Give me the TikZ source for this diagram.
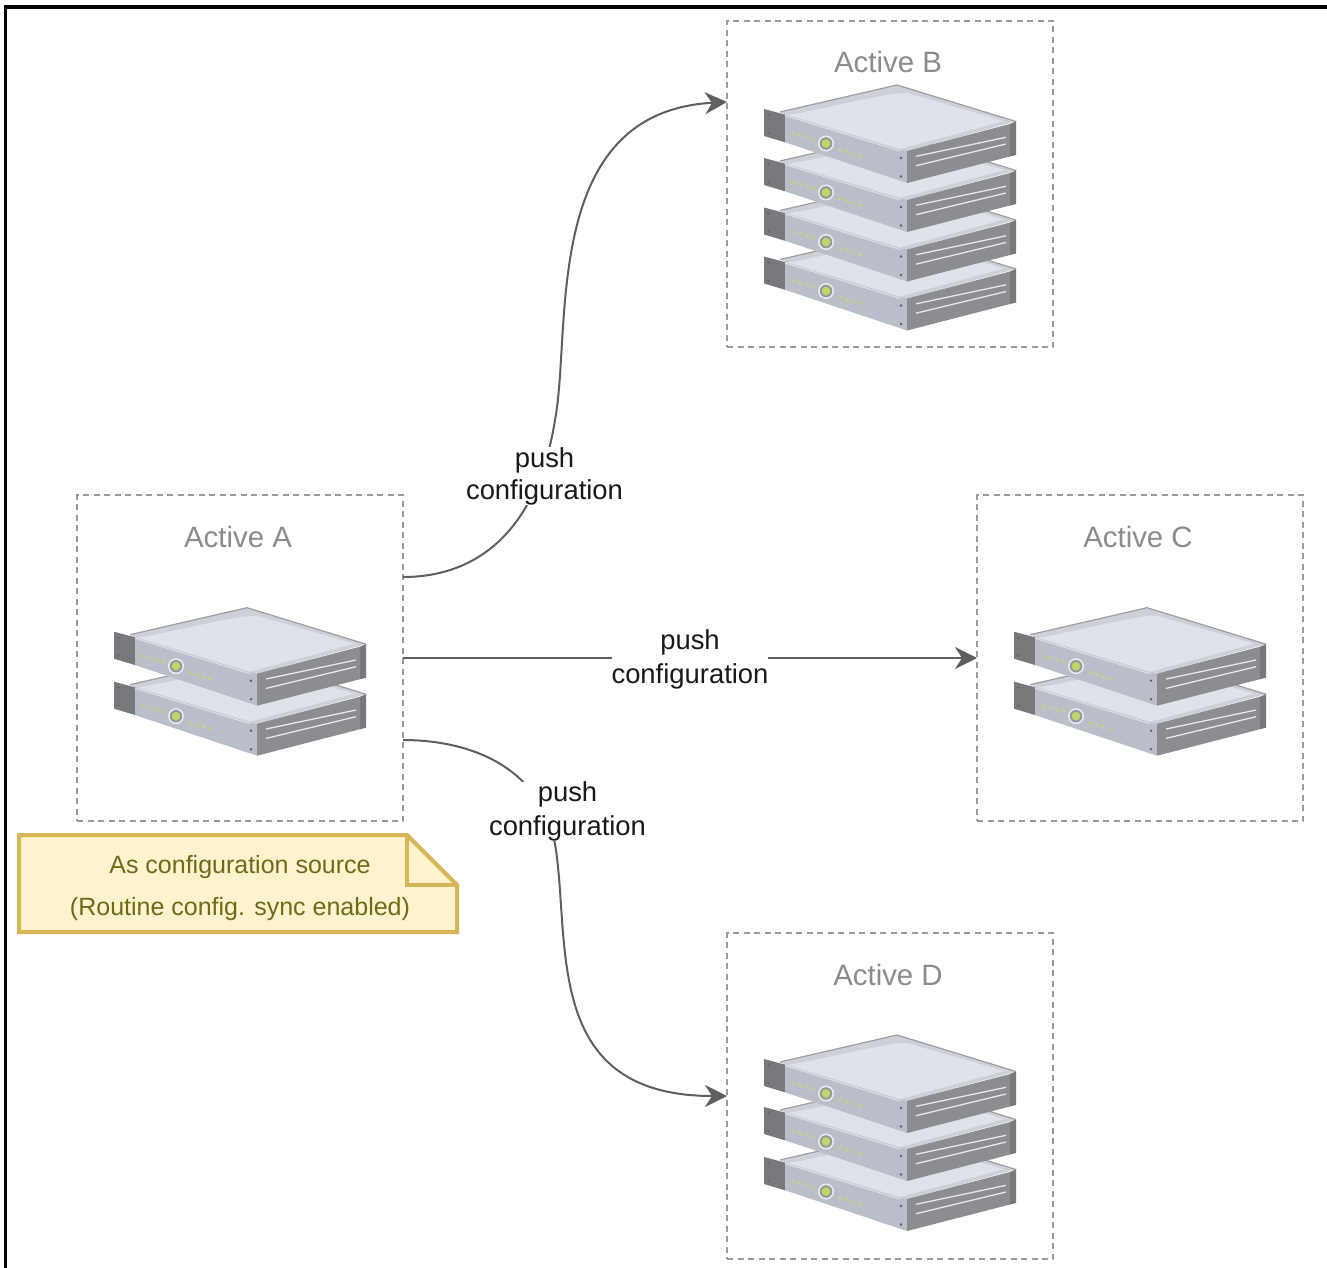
\documentclass[tikz,border=0pt]{standalone}
\usepackage{fontspec}
\setmainfont{Liberation Sans}
\usetikzlibrary{arrows.meta,calc}
\definecolor{boxgray}{HTML}{9A9A9A}
\definecolor{titlegray}{HTML}{8C8C8C}
\definecolor{linkgray}{HTML}{5F5F5F}
\definecolor{notefill}{HTML}{FFF2CC}
\definecolor{noteline}{HTML}{D6B656}
\definecolor{notetext}{HTML}{6F6A1A}
\definecolor{srvtop}{HTML}{DFE2E9}
\definecolor{srvrim}{HTML}{CDD0D6}
\definecolor{srvedge}{HTML}{9C9EA2}
\definecolor{srvfront}{HTML}{B9BEC9}
\definecolor{srvside}{HTML}{8B8D90}
\definecolor{srvear}{HTML}{77797C}
\definecolor{srvled}{HTML}{C4D284}
\definecolor{srvlamp}{HTML}{BDD86A}
\tikzset{
  x=1pt,y=-1pt,
  hostbox/.style={draw=boxgray,line width=1.5pt,dash pattern=on 6pt off 4.5pt,minimum width=326pt,minimum height=326pt,inner sep=0pt,outer sep=0pt},
  hosttitle/.style={text=titlegray,font=\fontsize{29.4}{33}\selectfont,inner sep=0pt},
  pushlabel/.style={fill=white,align=center,inner sep=0pt,text=black!90,font=\fontsize{27.4}{33.5}\selectfont},
  pushlink/.style={draw=linkgray,line width=2pt,-{Stealth[length=22pt,width=22pt,inset=7pt]}},
  notelabel/.style={text=notetext,inner sep=0pt,font=\fontsize{25}{42}\selectfont,align=center},
  server/.pic={
    % top face and rim
    \fill[srvrim] (16,27) -- (133,0) -- (252,36.5) -- (143,66) -- (136,66) -- (21,29.6) -- cycle;
    \fill[srvtop] (24,30) .. controls (70,22) and (120,8) .. (143,8) -- (240,36) -- (136,64) -- cycle;
    \draw[srvedge,line width=1.2pt,line join=round] (16,27) -- (133,0) -- (252,36.5);
    % left ear
    \fill[srvear] (0,24) -- (21,29.6) -- (21,57.3) -- (0,51) -- cycle;
    % front panel
    \fill[srvfront] (21,29.6) -- (136,65) -- (143,66) -- (143,98) -- (21,57.3) -- cycle;
    \draw[white!55!srvfront,line width=1pt] (21,30.5) -- (136,66);
    % right side
    \fill[srvside] (143,66) -- (246,39) -- (246,71.5) -- (143,98) -- cycle;
    \fill[srvear] (246,39) -- (252,36.5) -- (252,70) -- (246,71.5) -- cycle;
    \draw[white!80!srvside,line width=1.3pt] (152,71.3) -- (242,52.3) (152,80.7) -- (242,59);
    % screws
    \fill[srvear!80!black] (4.3,30) circle (1.2) (4.3,48) circle (1.2) (137,73) circle (1.3) (137,91.5) circle (1.3);
    % LEDs
    \foreach \lx/\ly in {29.3/48.3,36/50.2,43/52,49.3/54,76/65,83/67,89.5/69,96/71}
      \fill[srvled] (\lx,\ly) circle (1.9);
    \fill[white!70!srvfront] (62,58.5) circle (8);
    \fill[srvear!55!srvfront] (62,58.5) circle (6.3);
    \fill[srvlamp] (62,58.5) circle (4.3);
  }
}
\begin{document}
\begin{tikzpicture}
\useasboundingbox (0,0) rectangle (1327,1268);
\fill[white] (0,0) rectangle (1327,1268);
\draw[black,line width=3.5pt] (5.6,1268) -- (5.6,6.8) -- (1327,6.8);

% host boxes
\node[hostbox] (boxA) at (240,658) {};
\node[hostbox] (boxB) at (890,184) {};
\node[hostbox] (boxC) at (1140,658) {};
\node[hostbox] (boxD) at (890,1096) {};

\node[hosttitle] (titleA) at (238,537) {Active A};
\node[hosttitle] (titleB) at (888,62) {Active B};
\node[hosttitle] (titleC) at (1138,537) {Active C};
\node[hosttitle] (titleD) at (888,975) {Active D};

% servers, lowest first
\pic at (114,657.7) {server};
\pic at (114,607.7) {server};
\pic at (1014,657.7) {server};
\pic at (1014,607.7) {server};
\pic at (764,232.5) {server};
\pic at (764,183.5) {server};
\pic at (764,134) {server};
\pic at (764,85) {server};
\pic at (764,1133) {server};
\pic at (764,1083) {server};
\pic at (764,1035) {server};

% note
\coordinate (noteNW) at (19,835);
\coordinate (noteSE) at (457,932);
\coordinate (foldA) at (407,835);
\coordinate (foldB) at (457,885);
\coordinate (foldC) at (407,885);
\filldraw[fill=notefill,draw=noteline,line width=4pt,line join=miter]
  (noteNW) -- (foldA) -- (foldB) -- (noteSE) -- (noteNW |- noteSE) -- cycle;
\draw[noteline,line width=4pt,line join=miter] (foldA) -- (foldC) -- (foldB);
\node[notelabel] (noteText) at (240,888) {As configuration source\\(Routine config. sync enabled)};

% connectors
\coordinate (fromAB) at ($(boxA.east)+(0,-81)$);
\coordinate (fromAD) at ($(boxA.east)+(0,82)$);
\coordinate (toB) at ($(boxB.west)+(0,-82)$);
\coordinate (toD) at (boxD.west);
\coordinate (viaB) at (555,420);
\coordinate (viaD) at (556,850);
\draw[pushlink] (fromAB) .. controls (490,577) and (540,515) .. (viaB) .. controls (572,330) and (540,112) .. (toB);
\draw[pushlink] (boxA.east) -- (boxC.west);
\draw[pushlink] (fromAD) .. controls (460,740) and (542,760) .. (viaD) .. controls (570,950) and (545,1096) .. (toD);

% connector labels
\node[pushlabel,font=\fontsize{27.4}{32}\selectfont] (pushB) at (544.5,476) {push\\configuration};
\node[pushlabel] (pushC) at (690,659.5) {push\\configuration};
\node[pushlabel] (pushD) at (567.5,811.5) {push\\configuration};
\end{tikzpicture}
\end{document}
